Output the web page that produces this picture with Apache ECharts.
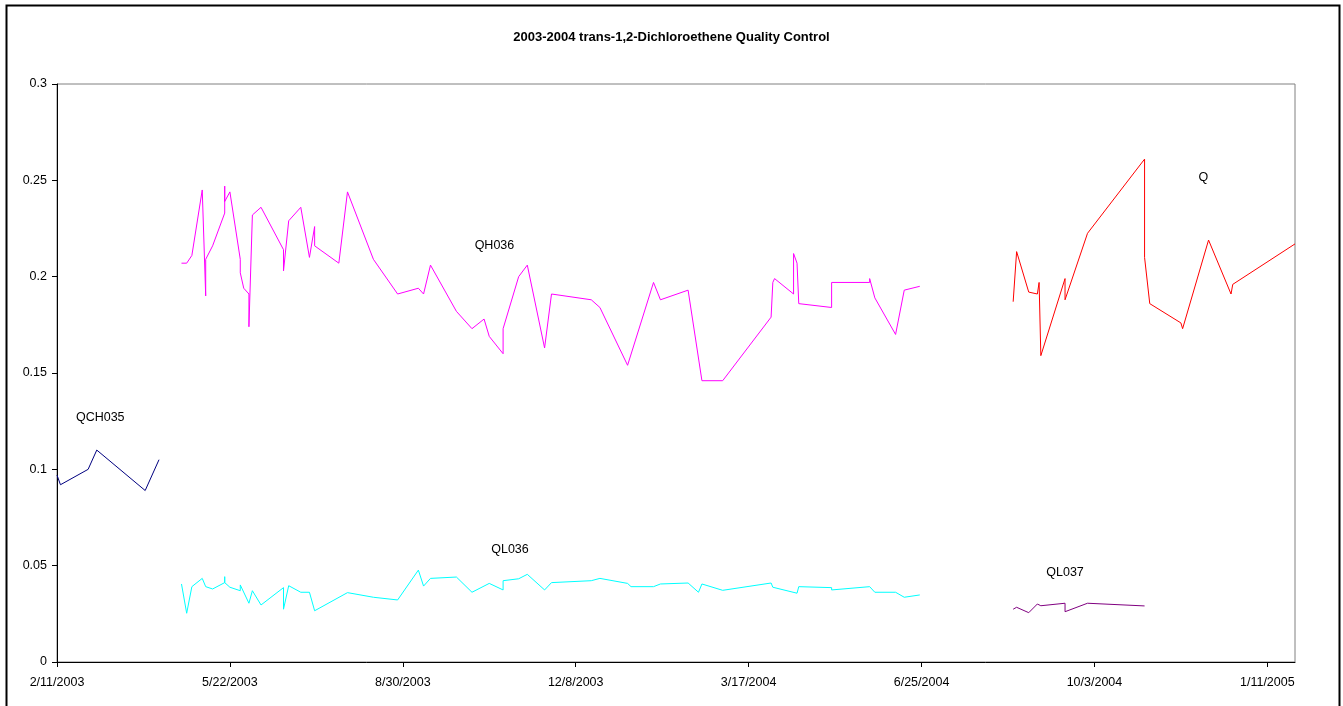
<!DOCTYPE html>
<html>
<head>
<meta charset="utf-8">
<script src="https://cdn.jsdelivr.net/npm/echarts@6/dist/echarts.min.js"></script>
<style>
html,body{margin:0;padding:0;background:#fff;}
#chart{width:1343px;height:706px;}
</style>
</head>
<body>
<div id="chart"></div>
<script>
// ---- data (dates, values) ----
const qch035Dates = ['2003-02-11','2003-02-13','2003-03-01','2003-03-06','2003-04-03','2003-04-11'];
const qch035Values = [0.097,0.092,0.100,0.110,0.089,0.105];

const qh036Dates = ['2003-04-24','2003-04-27','2003-04-30','2003-05-06','2003-05-08','2003-05-08','2003-05-12','2003-05-19','2003-05-19','2003-05-19',
  '2003-05-22','2003-05-28','2003-05-28','2003-05-30','2003-06-02','2003-06-02','2003-06-04','2003-06-09','2003-06-22','2003-06-22',
  '2003-06-25','2003-07-02','2003-07-07','2003-07-10','2003-07-10','2003-07-24','2003-07-29','2003-08-13','2003-08-27','2003-09-08',
  '2003-09-11','2003-09-15','2003-09-30','2003-10-09','2003-10-16','2003-10-19','2003-10-27','2003-10-27','2003-11-05','2003-11-10',
  '2003-11-20','2003-11-24','2003-12-17','2003-12-22','2004-01-07','2004-01-22','2004-01-26','2004-02-11','2004-02-19','2004-03-02',
  '2004-03-30','2004-03-31','2004-04-01','2004-04-12','2004-04-12','2004-04-14','2004-04-15','2004-05-04','2004-05-04','2004-05-26',
  '2004-05-26','2004-05-29','2004-06-10','2004-06-15','2004-06-24'];
const qh036Values = [0.207,0.207,0.211,0.245,0.190,0.209,0.216,0.233,0.247,0.239,
  0.244,0.209,0.202,0.194,0.191,0.174,0.232,0.236,0.214,0.203,
  0.229,0.236,0.210,0.226,0.216,0.207,0.244,0.209,0.191,0.194,
  0.191,0.206,0.182,0.173,0.178,0.169,0.160,0.173,0.200,0.206,
  0.163,0.191,0.188,0.184,0.154,0.197,0.188,0.193,0.146,0.146,
  0.179,0.197,0.199,0.191,0.212,0.207,0.186,0.184,0.197,0.197,
  0.199,0.189,0.170,0.193,0.195];

const ql036Dates = ['2003-04-24','2003-04-27','2003-04-30','2003-05-06','2003-05-08','2003-05-12','2003-05-19','2003-05-19','2003-05-19','2003-05-22',
  '2003-05-28','2003-05-28','2003-06-02','2003-06-04','2003-06-09','2003-06-22','2003-06-22','2003-06-25','2003-07-02','2003-07-07',
  '2003-07-10','2003-07-29','2003-08-13','2003-08-27','2003-09-08','2003-09-11','2003-09-15','2003-09-30','2003-10-09','2003-10-19',
  '2003-10-27','2003-10-27','2003-11-05','2003-11-10','2003-11-20','2003-11-24','2003-12-17','2003-12-22','2004-01-07','2004-01-09',
  '2004-01-22','2004-01-26','2004-02-11','2004-02-17','2004-02-19','2004-03-02','2004-03-30','2004-03-31','2004-04-14','2004-04-15',
  '2004-05-04','2004-05-04','2004-05-26','2004-05-29','2004-06-10','2004-06-15','2004-06-24'];
const ql036Values = [0.0405,0.0253,0.0391,0.0434,0.0391,0.0379,0.0412,0.0443,0.0412,0.0388,
  0.0370,0.0400,0.0305,0.0370,0.0296,0.0386,0.0274,0.0396,0.0362,0.0362,
  0.0266,0.0360,0.0336,0.0322,0.0477,0.0394,0.0434,0.0441,0.0362,0.0408,
  0.0374,0.0422,0.0432,0.0455,0.0374,0.0412,0.0422,0.0434,0.0408,0.0391,
  0.0391,0.0405,0.0410,0.0362,0.0405,0.0372,0.0410,0.0388,0.0357,0.0391,
  0.0386,0.0374,0.0391,0.0362,0.0362,0.0336,0.0348];

const qDates = ['2004-08-17','2004-08-19','2004-08-26','2004-08-31','2004-09-01','2004-09-02','2004-09-16','2004-09-16','2004-09-29','2004-11-01',
  '2004-11-01','2004-11-04','2004-11-22','2004-11-23','2004-12-08','2004-12-21','2004-12-22','2005-01-27'];
const qValues = [0.187,0.213,0.192,0.191,0.197,0.159,0.199,0.188,0.2225,0.261,
  0.210,0.186,0.176,0.173,0.219,0.191,0.196,0.217];

const ql037Dates = ['2004-08-17','2004-08-19','2004-08-26','2004-08-31','2004-09-01','2004-09-02','2004-09-16','2004-09-16','2004-09-29','2004-11-01'];
const ql037Values = [0.0274,0.0284,0.0256,0.0301,0.0305,0.0292,0.0305,0.0261,0.0305,0.0291];

const axisStartDate = '2003-02-11';
const axisEndDate = '2005-01-27';
const xTickStepDays = 100;
const yTickLabels = ['0','0.05','0.1','0.15','0.2','0.25','0.3'];

// ---- helpers ----
const DAY = 86400000;
function utc(s){ const p = s.split('-').map(Number); return Date.UTC(p[0], p[1]-1, p[2]); }
const t0 = utc(axisStartDate);
function toDay(s){ return Math.round((utc(s) - t0) / DAY); }
function fmtDay(d){ const dt = new Date(t0 + d*DAY); return (dt.getUTCMonth()+1) + '/' + dt.getUTCDate() + '/' + dt.getUTCFullYear(); }
function pairs(dates, vals){ return dates.map((d,i)=>[toDay(d), vals[i]]); }

const xMax = toDay(axisEndDate);
const xTicks = [];
for (let d = 0; d <= xMax; d += xTickStepDays) xTicks.push(d);
const yTicks = yTickLabels.map(Number);

const chart = echarts.init(document.getElementById('chart'), null, {renderer:'canvas'});
const FONT = 'Liberation Sans, Arial, sans-serif';

function lineSeries(name, color, data, labelCoord){
  return {
    name, type:'line', data, symbol:'none', showSymbol:false,
    lineStyle:{color, width:1}, itemStyle:{color},
    animation:false, clip:true,
    markPoint:{
      symbol:'circle', symbolSize:0, silent:true, animation:false,
      label:{show:true, position:'inside', formatter:name, color:'#000', fontSize:12.5, fontFamily:FONT},
      data:[{coord:labelCoord}]
    }
  };
}

chart.setOption({
  backgroundColor:'#fff',
  animation:false,
  title:{
    text:'2003-2004 trans-1,2-Dichloroethene Quality Control',
    left:'center', top:26,
    textStyle:{fontSize:13, fontWeight:'bold', color:'#000', fontFamily:FONT}
  },
  graphic:[{
    type:'rect', left:4, top:3, silent:true,
    shape:{width:1333, height:714},
    style:{fill:'none', stroke:'#000', lineWidth:2}
  }],
  grid:{left:57, right:48, top:84, bottom:44, show:true, borderColor:'#808080', borderWidth:1, backgroundColor:'transparent'},
  xAxis:{
    type:'value', min:0, max:xMax, interval:xTickStepDays,
    axisLine:{show:true, lineStyle:{color:'#000', width:1}},
    axisTick:{show:true, inside:false, length:5, lineStyle:{color:'#000'}, customValues:xTicks},
    axisLabel:{customValues:xTicks, formatter:v=>fmtDay(v), color:'#000', fontSize:12.5, fontFamily:FONT, margin:14},
    splitLine:{show:false}
  },
  yAxis:{
    type:'value', min:0, max:0.3, interval:0.05,
    axisLine:{show:true, lineStyle:{color:'#000', width:1}},
    axisTick:{show:true, inside:false, length:5, lineStyle:{color:'#000'}, customValues:yTicks},
    axisLabel:{customValues:yTicks, formatter:v=>yTickLabels[Math.round(v/0.05)], color:'#000', fontSize:12.5, fontFamily:FONT, margin:10},
    splitLine:{show:false}
  },
  series:[
    lineSeries('QCH035', '#000080', pairs(qch035Dates, qch035Values), [25, 0.127]),
    lineSeries('QH036', '#FF00FF', pairs(qh036Dates, qh036Values), [253, 0.216]),
    lineSeries('QL036', '#00FFFF', pairs(ql036Dates, ql036Values), [262, 0.0585]),
    lineSeries('Q', '#FF0000', pairs(qDates, qValues), [663, 0.2515]),
    lineSeries('QL037', '#800080', pairs(ql037Dates, ql037Values), [583, 0.0465])
  ]
});
</script>
</body>
</html>
